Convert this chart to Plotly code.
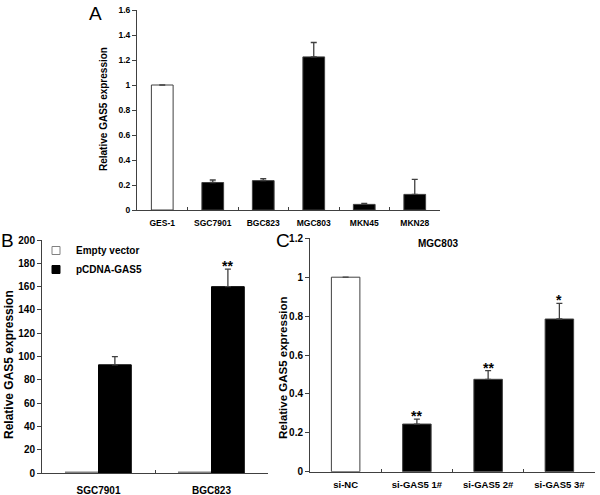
import plotly.graph_objects as go

W, H = 600, 495
FONT = "Liberation Sans"
AX = "#404040"

# ---------- data ----------
# Panel A
a_cats = ["GES-1", "SGC7901", "BGC823", "MGC803", "MKN45", "MKN28"]
a_vals = [1.0, 0.22, 0.235, 1.225, 0.045, 0.125]
a_errs = [None, 0.02, 0.015, 0.115, 0.008, 0.12]
a_ticks = [0, 0.2, 0.4, 0.6, 0.8, 1, 1.2, 1.4, 1.6]

# Panel B
b_cats = ["SGC7901", "BGC823"]
b_series = ["Empty vector", "pCDNA-GAS5"]
b_empty = [1, 1]
b_pcdna = [93, 160]
b_pcdna_err = [7, 15]
b_stars = ["", "**"]
b_ticks = list(range(0, 201, 20))

# Panel C
c_cats = ["si-NC", "si-GAS5 1#", "si-GAS5 2#", "si-GAS5 3#"]
c_vals = [1.0, 0.245, 0.475, 0.785]
c_errs = [None, 0.025, 0.045, 0.08]
c_stars = ["", "**", "**", "*"]
c_ticks = [0, 0.2, 0.4, 0.6, 0.8, 1, 1.2]


def px_x(p):
    return p / W


def px_y(p):
    return 1 - p / H


fig = go.Figure()

err_style = dict(type="data", symmetric=False, color=AX, thickness=1.3, width=3)

# Panel A bars
fig.add_trace(go.Bar(
    x=a_cats, y=a_vals, width=0.43,
    marker=dict(color=["white" if i == 0 else "black" for i in range(len(a_cats))],
                line=dict(color=AX, width=1)),
    error_y=dict(array=a_errs, arrayminus=[0] * len(a_cats), **err_style),
    xaxis="x", yaxis="y", showlegend=False))

# Panel B bars
fig.add_trace(go.Bar(
    x=b_cats, y=b_empty, offset=-0.29, width=0.29, name=b_series[0],
    marker=dict(color="white", line=dict(color="#808080", width=1.5)),
    xaxis="x2", yaxis="y2", showlegend=False))
fig.add_trace(go.Bar(
    x=b_cats, y=b_pcdna, offset=0, width=0.29, name=b_series[1],
    marker=dict(color="black", line=dict(color="black", width=1)),
    error_y=dict(array=b_pcdna_err, arrayminus=[0] * len(b_cats), **err_style),
    xaxis="x2", yaxis="y2", showlegend=False))

# legend entries for panel B (small square keys)
for name, fill, edge in zip(b_series, ["white", "black"], ["#808080", "black"]):
    fig.add_trace(go.Scatter(
        x=[None], y=[None], mode="markers", name=name,
        marker=dict(symbol="square", size=8, color=fill, line=dict(color=edge, width=1)),
        xaxis="x2", yaxis="y2"))

# Panel C bars
fig.add_trace(go.Bar(
    x=c_cats, y=c_vals, width=0.4,
    marker=dict(color=["white" if i == 0 else "black" for i in range(len(c_cats))],
                line=dict(color=AX, width=1)),
    error_y=dict(array=c_errs, arrayminus=[0] * len(c_cats), **err_style),
    xaxis="x3", yaxis="y3", showlegend=False))


def xaxis(domain, n, size, anchor, standoff):
    return dict(domain=domain, anchor=anchor, type="category", range=[-0.5, n - 0.5],
                automargin=False,
                showline=True, linecolor=AX, linewidth=1, ticks="inside", ticklen=3,
                tickcolor=AX, tickson="boundaries", showgrid=False, zeroline=False,
                ticklabelstandoff=standoff,
                tickfont=dict(family=FONT, size=size, color="black", weight="bold"))


def yaxis(domain, rng, ticks, size, anchor):
    return dict(domain=domain, anchor=anchor, range=rng, tickvals=ticks,
                automargin=False,
                showline=True, linecolor=AX, linewidth=1, ticks="outside", ticklen=4,
                tickcolor=AX, showgrid=False, zeroline=False,
                tickfont=dict(family=FONT, size=size, color="black", weight="bold"))


annotations = []


def ann(text, x, y, size, bold=False, angle=0, **kw):
    annotations.append(dict(text=text, x=x, y=y, xref="paper", yref="paper",
                            xanchor="center", yanchor="middle",
                            showarrow=False, textangle=angle,
                            font=dict(family=FONT, size=size, color="black",
                                      weight="bold" if bold else "normal"), **kw))


ann("A", px_x(95), px_y(14), 19)
ann("B", px_x(7), px_y(240), 19)
ann("C", px_x(283), px_y(240), 19)
ann("MGC803", px_x(438), px_y(243), 10, bold=True)
ann("Relative GAS5 expression", px_x(104), px_y(109), 10, bold=True, angle=-90)
ann("Relative GAS5 expression", px_x(9), px_y(365), 12, bold=True, angle=-90)
ann("Relative GAS5 expression", px_x(283), px_y(368), 11.5, bold=True, angle=-90)

# significance stars
for i, s in enumerate(b_stars):
    if s:
        annotations.append(dict(text=s, x=i + 0.145, y=b_pcdna[i] + b_pcdna_err[i],
                                xref="x2", yref="y2", yanchor="bottom", showarrow=False,
                                yshift=-7, font=dict(family=FONT, size=14, color="black",
                                                     weight="bold")))
for i, s in enumerate(c_stars):
    if s:
        annotations.append(dict(text=s, x=i, y=c_vals[i] + c_errs[i],
                                xref="x3", yref="y3", yanchor="bottom", showarrow=False,
                                yshift=-7, font=dict(family=FONT, size=14, color="black",
                                                     weight="bold")))

fig.update_layout(
    width=W, height=H, margin=dict(l=0, r=0, t=0, b=0, autoexpand=False),
    paper_bgcolor="white", plot_bgcolor="white",
    barmode="overlay",
    font=dict(family=FONT, color="black"),
    xaxis=xaxis([px_x(137), px_x(440)], len(a_cats), 8.5, "y", 5),
    yaxis=yaxis([px_y(210), px_y(10)], [0, 1.6], a_ticks, 8.5, "x"),
    xaxis2=xaxis([px_x(42), px_x(268)], len(b_cats), 10, "y2", 8),
    yaxis2=yaxis([px_y(473.3), px_y(240)], [0, 200], b_ticks, 10, "x2"),
    xaxis3=xaxis([px_x(310), px_x(595)], len(c_cats), 9.5, "y3", 4),
    yaxis3=yaxis([px_y(471.7), px_y(238.3)], [0, 1.2], c_ticks, 10, "x3"),
    legend=dict(x=px_x(36), y=px_y(236), xanchor="left", yanchor="top",
                bgcolor="rgba(0,0,0,0)", tracegroupgap=0,
                font=dict(family=FONT, size=10, color="black", weight="bold")),
    annotations=annotations,
)

fig.write_html("out.html", config={"displayModeBar": False},
               post_script="document.body.style.margin='0px';document.body.style.padding='0px';")
